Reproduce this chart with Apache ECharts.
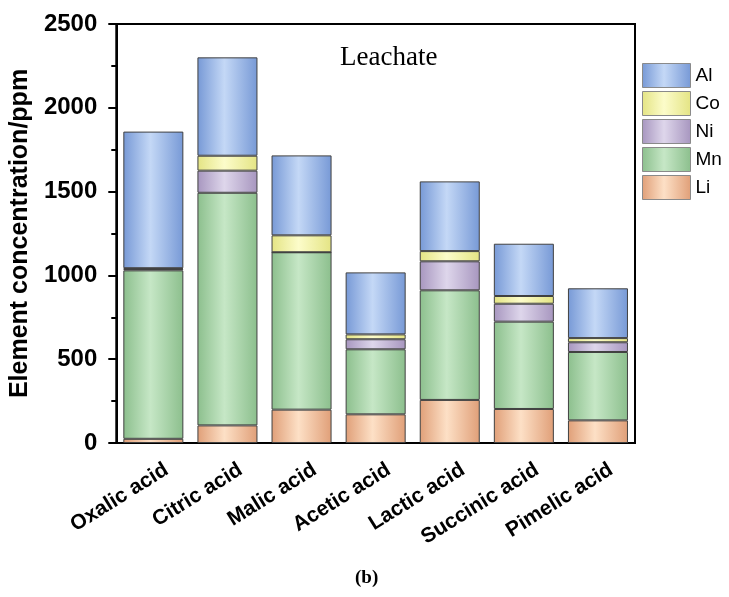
<!DOCTYPE html>
<html>
<head>
<meta charset="utf-8">
<script src="https://cdn.jsdelivr.net/npm/echarts@6/dist/echarts.min.js"></script>
<style>
  html, body { margin: 0; padding: 0; background: #fff; }
  #chart { width: 729px; height: 597px; }
</style>
</head>
<body>
<div id="chart"></div>
<script>
var acids = ['Oxalic acid', 'Citric acid', 'Malic acid', 'Acetic acid', 'Lactic acid', 'Succinic acid', 'Pimelic acid'];
var li = [25, 105, 199, 171, 257, 203, 135];
var mn = [1005, 1388, 939, 388, 654, 521, 408];
var ni = [8, 132, 0, 60, 173, 107, 58];
var co = [5, 89, 101, 29, 61, 46, 25];
var al = [815, 587, 477, 370, 416, 312, 297];
var yTicks = [0, 500, 1000, 1500, 2000, 2500];

// edge / centre colours of each bar gradient
var shades = {
    Li: ['#e09f78', '#fde0c6'],
    Mn: ['#8cbf8d', '#c6e7c6'],
    Ni: ['#a796bf', '#ded6eb'],
    Co: ['#e4e484', '#fcfcca'],
    Al: ['#7799d6', '#c4d8f6']
};

function grad(name) {
    var c = shades[name];
    return new echarts.graphic.LinearGradient(0, 0, 1, 0, [
        {offset: 0, color: c[0]},
        {offset: 0.45, color: c[1]},
        {offset: 1, color: c[0]}
    ]);
}

function barSeries(name, data) {
    return {
        name: name,
        type: 'bar',
        stack: 'total',
        barWidth: '81%',
        data: data,
        itemStyle: {color: grad(name), borderColor: '#404040', borderWidth: 1}
    };
}

var dom = document.getElementById('chart');
var myChart = echarts.init(dom);
var option = {
    animation: false,
    legend: {
        orient: 'vertical',
        left: 642,
        top: 63,
        padding: 0,
        icon: 'rect',
        itemWidth: 48,
        itemHeight: 24,
        itemGap: 3,
        data: ['Al', 'Co', 'Ni', 'Mn', 'Li'],
        itemStyle: {borderColor: '#8a8a8a', borderWidth: 1},
        textStyle: {fontFamily: 'Liberation Sans', fontSize: 19, color: '#000', padding: [0, 0, 0, 0]}
    },
    grid: {
        left: 116, right: 94, top: 24, bottom: 154,
        show: true, borderColor: '#000', borderWidth: 2
    },
    xAxis: [{
        type: 'category',
        data: acids,
        axisLine: {lineStyle: {color: '#000', width: 2}},
        axisTick: {alignWithLabel: true, length: 8, lineStyle: {color: '#000', width: 2}},
        axisLabel: {
            rotate: 32, margin: 21, interval: 0,
            align: 'right', verticalAlign: 'top',
            formatter: function (v) { return '{a|' + v + '}'; },
            rich: {a: {fontFamily: 'Liberation Sans', fontWeight: 'bold', fontSize: 21, color: '#000', padding: [0, -9, 0, 0]}}
        }
    }, {
        type: 'category',
        data: acids,
        position: 'bottom',
        axisLine: {show: false},
        axisTick: {length: 4, lineStyle: {color: '#000', width: 2}},
        axisLabel: {show: false}
    }],
    yAxis: {
        type: 'value',
        min: yTicks[0],
        max: yTicks[yTicks.length - 1],
        interval: 500,
        name: 'Element concentration/ppm',
        nameLocation: 'middle',
        nameGap: 78,
        nameTextStyle: {fontFamily: 'Liberation Sans', fontWeight: 'bold', fontSize: 25, color: '#000'},
        splitLine: {show: false},
        axisLine: {show: true, lineStyle: {color: '#000', width: 2}},
        axisTick: {show: true, length: 8, lineStyle: {color: '#000', width: 2}},
        minorTick: {show: true, splitNumber: 2, length: 5, lineStyle: {color: '#000', width: 2}},
        axisLabel: {
            formatter: function (v) { return String(v); },
            fontFamily: 'Liberation Sans', fontWeight: 'bold', fontSize: 24, color: '#000', margin: 19
        }
    },
    graphic: [{
        type: 'text',
        left: 340,
        top: 44,
        style: {text: 'Leachate', fontFamily: 'Liberation Serif', fontSize: 27, fill: '#000'}
    }, {
        type: 'text',
        left: 355,
        top: 569,
        style: {text: '(b)', fontFamily: 'Liberation Serif', fontSize: 19, fontWeight: 'bold', fill: '#000'}
    }],
    series: [
        barSeries('Li', li),
        barSeries('Mn', mn),
        barSeries('Ni', ni),
        barSeries('Co', co),
        barSeries('Al', al)
    ]
};

if (option && typeof option === 'object') {
    myChart.setOption(option, true);
}
</script>
</body>
</html>
